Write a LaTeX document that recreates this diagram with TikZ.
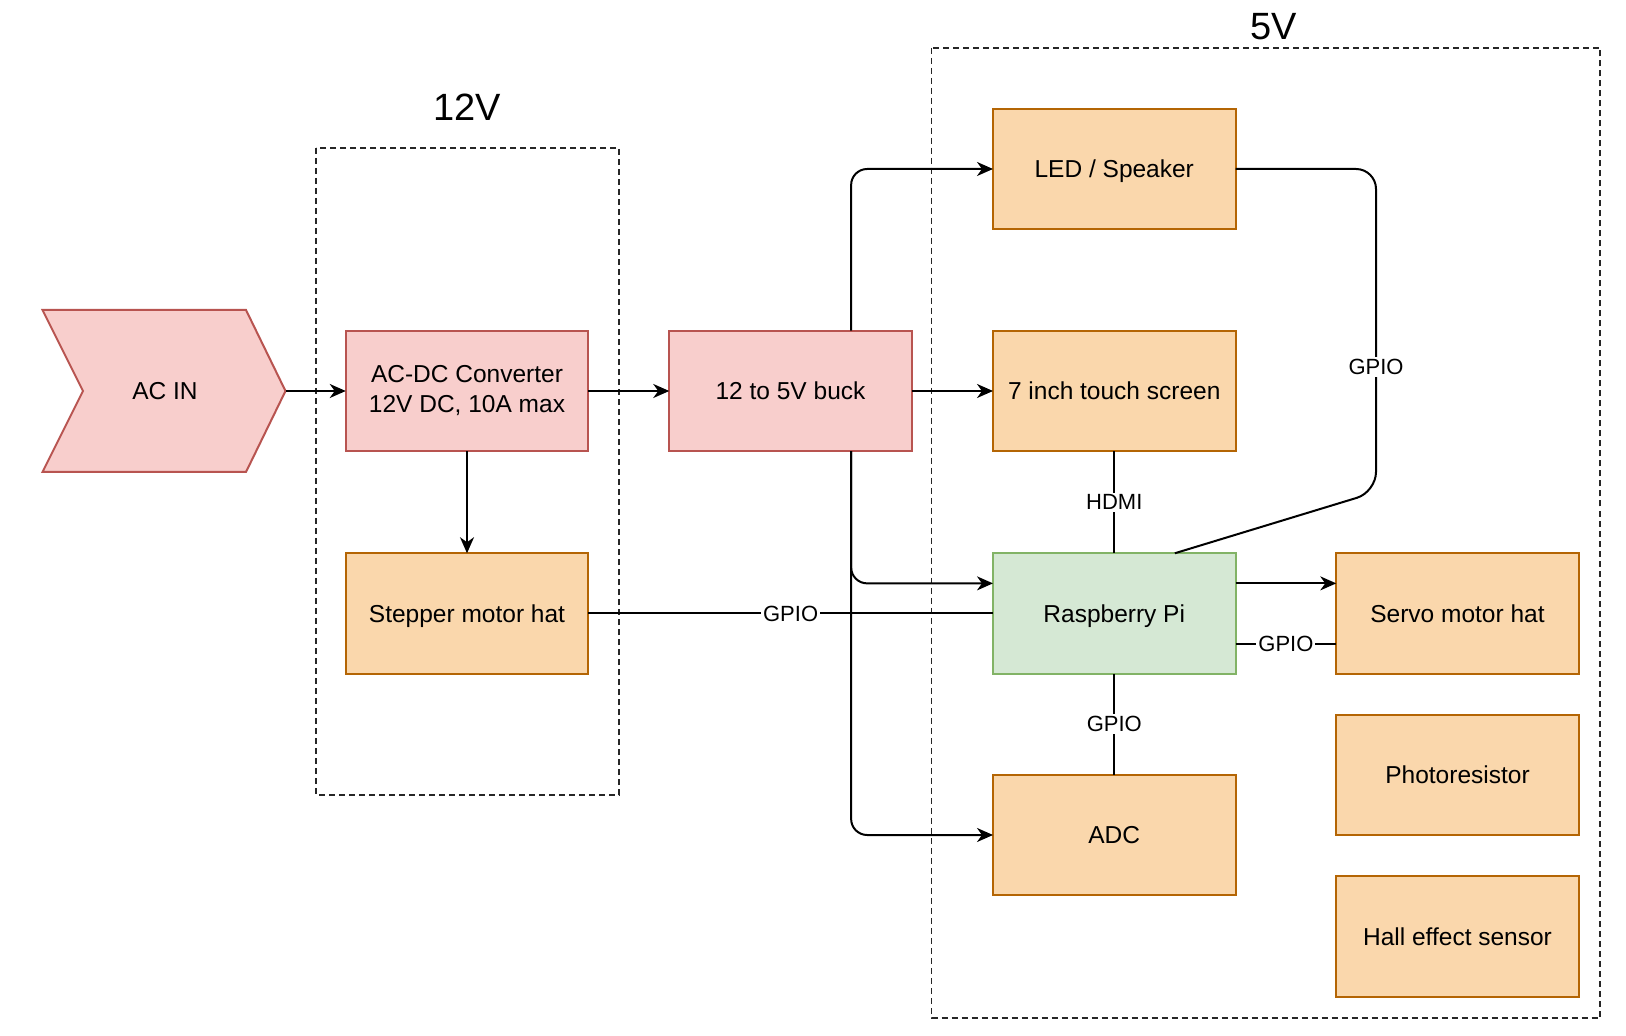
\documentclass[tikz,border=0pt]{standalone}
\usepackage{fontspec}
\setmainfont{Liberation Sans}
\usetikzlibrary{arrows.meta,calc}
\definecolor{redfill}{HTML}{F8CECC}
\definecolor{redline}{HTML}{B85450}
\definecolor{orfill}{HTML}{FAD7AC}
\definecolor{orline}{HTML}{B46504}
\definecolor{grfill}{HTML}{D5E8D4}
\definecolor{grline}{HTML}{82B366}
\begin{document}
\begin{tikzpicture}[x=0.5pt,y=-0.5pt,
 box/.style={rectangle, minimum width=121.25pt, minimum height=60.25pt, line width=1pt, font=\fontsize{12.25}{15}\selectfont, inner sep=0pt, outer sep=0pt},
 oneline/.style={text depth=0pt},
 redbox/.style={box, fill=redfill, draw=redline},
 orbox/.style={box, fill=orfill, draw=orline},
 grbox/.style={box, fill=grfill, draw=grline},
 group/.style={draw=black!85, line width=0.8pt, dash pattern=on 3pt off 2pt},
 conn/.style={draw=black, line width=1pt},
 arr/.style={conn, -{Stealth[length=8pt,width=7pt,inset=2.5pt]}},
 lbl/.style={fill=white, inner sep=1pt, font=\fontsize{11}{13}\selectfont},
 title/.style={font=\fontsize{19}{22}\selectfont}
]
\useasboundingbox (0,0) rectangle (1626,1036);
\fill[white] (0,0) rectangle (1626,1036);
% groups
\draw[group] (316,148) rectangle (619,795);
\draw[group] (931.5,48) rectangle (1600,1018);
\node[title] (t12) at (467,107) {12V};
\node[title] (t5) at (1274,27) {5V};
% AC IN chevron
\draw[fill=redfill, draw=redline, line width=1pt] (42.5,310) -- (246,310) -- (285.5,391) -- (246,472) -- (42.5,472) -- (83,391) -- cycle;
\coordinate (acintip) at (285.5,391);
\node[font=\fontsize{12.25}{15}\selectfont, text depth=0pt] (acin) at (165,391) {AC IN};
% boxes
\node[redbox, align=center] (acdc) at (467,391) {AC-DC Converter\\12V DC, 10A max};
\node[orbox,oneline] (stepper) at (467,613.5) {Stepper motor hat};
\node[redbox,oneline] (buck) at (790.5,391) {12 to 5V buck};
\node[orbox,oneline] (led) at (1114.25,169) {LED / Speaker};
\node[orbox,oneline] (touch) at (1114.25,391) {7 inch touch screen};
\node[grbox,oneline] (pi) at (1114.25,613.5) {Raspberry Pi};
\node[orbox,oneline] (adc) at (1114.25,835) {ADC};
\node[orbox,oneline] (servo) at (1457.5,613.5) {Servo motor hat};
\node[orbox,oneline] (photo) at (1457.5,775) {Photoresistor};
\node[orbox,oneline] (hall) at (1457.5,936.5) {Hall effect sensor};
% connectors
\draw[arr] (acintip) -- (acdc.west);
\draw[arr] (acdc.east) -- (buck.west);
\draw[arr] (acdc.south) -- (stepper.north);
\draw[arr] (buck.east) -- (touch.west);
\coordinate (bt) at ($(buck.north west)!0.75!(buck.north east)$);
\coordinate (bb) at ($(buck.south west)!0.75!(buck.south east)$);
\coordinate (pil) at ($(pi.north west)!0.25!(pi.south west)$);
\draw[arr, rounded corners=8pt] (bt) |- (led.west);
\draw[arr, rounded corners=8pt] (bb) |- (pil);
\draw[arr, rounded corners=8pt] (bb) |- (adc.west);
\draw[conn] (stepper.east) -- node[lbl] (g1) {GPIO} (pi.west);
\draw[conn] (touch.south) -- node[lbl] (h1) {HDMI} (pi.north);
\draw[conn] (pi.south) -- node[lbl] (g2) {GPIO} (adc.north);
\coordinate (pir1) at ($(pi.north east)!0.25!(pi.south east)$);
\coordinate (pir3) at ($(pi.north east)!0.75!(pi.south east)$);
\draw[arr] (pir1) -- (pir1 -| servo.west);
\draw[conn] (pir3) -- node[lbl] (g3) {GPIO} (pir3 -| servo.west);
\coordinate (pitop) at ($(pi.north west)!0.75!(pi.north east)$);
\coordinate (c1) at (1376,169);
\coordinate (c2) at (1376,492);
\draw[conn, rounded corners=10pt] (led.east) -- (c1) -- (c2) -- (pitop);
\node[lbl] (g4) at (1376,367) {GPIO};
\end{tikzpicture}
\end{document}
